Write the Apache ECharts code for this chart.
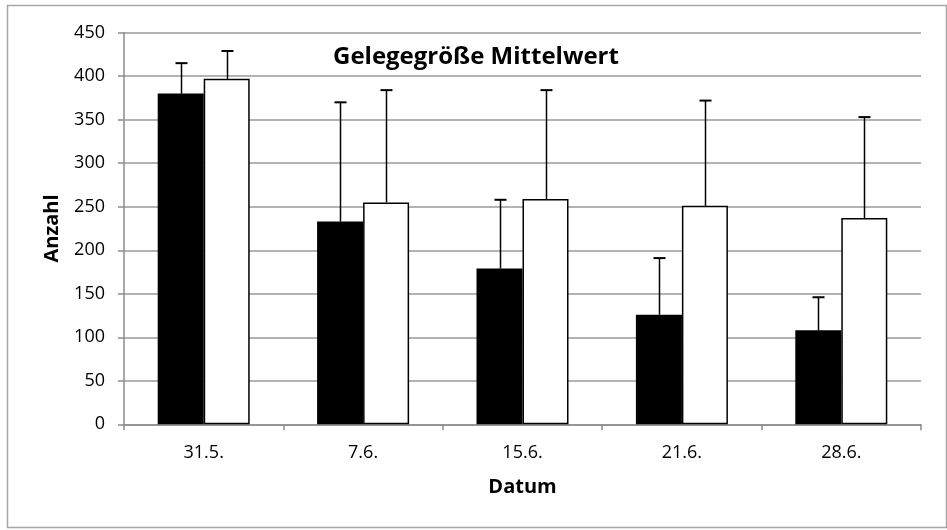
<!DOCTYPE html>
<html><head><meta charset="utf-8">
<script src="https://cdn.jsdelivr.net/npm/echarts@6/dist/echarts.min.js"></script>
<style>html,body{margin:0;padding:0;background:#fff}#c{width:947px;height:530px}</style>
</head><body><div id="c"></div>
<script>
const categories = ['31.5.', '7.6.', '15.6.', '21.6.', '28.6.'];
const seriesA = [380, 233, 179, 126, 108];
const seriesAErr = [35, 137, 79, 65, 38];
const seriesB = [397, 255, 259, 251, 237];
const seriesBErr = [32, 129, 125, 121, 116];
const yTicks = [0, 50, 100, 150, 200, 250, 300, 350, 400, 450];

const BAR_W = 46;
const chart = echarts.init(document.getElementById('c'), null, {renderer: 'canvas'});
const FONT = '"Open Sans"';

function errSeries(vals, errs, side) {
  return {
    type: 'custom',
    z: 5,
    data: vals.map((v, i) => [i, v, v + errs[i]]),
    renderItem: function (params, api) {
      const base = api.coord([api.value(0), api.value(1)]);
      const top = api.coord([api.value(0), api.value(2)]);
      const x = Math.round(base[0] + side * BAR_W / 2) + 0.5;
      const cap = 6;
      return {
        type: 'group',
        children: [
          {type: 'line', shape: {x1: x, y1: base[1], x2: x, y2: top[1]}, style: {stroke: '#000', lineWidth: 1.5}},
          {type: 'line', shape: {x1: x - cap, y1: top[1], x2: x + cap, y2: top[1]}, style: {stroke: '#000', lineWidth: 2}}
        ]
      };
    }
  };
}

chart.setOption({
  animation: false,
  backgroundColor: '#fff',
  grid: {left: 124, right: 26, top: 32.7, bottom: 105.7},
  graphic: [
    {type: 'rect', shape: {x: 7.5, y: 5.5, width: 939, height: 522}, style: {fill: 'none', stroke: '#a6a6a6', lineWidth: 1.5}, silent: true},
    {type: 'text', x: 333, y: 57, style: {text: 'Gelegegröße Mittelwert', font: 'bold 24px ' + FONT, fill: '#000', verticalAlign: 'middle'}, z: 10}
  ],
  xAxis: {
    type: 'category',
    data: categories,
    name: 'Datum',
    nameLocation: 'middle',
    nameGap: 53,
    nameTextStyle: {fontFamily: FONT, fontWeight: 'bold', fontSize: 20, color: '#000'},
    axisLine: {lineStyle: {color: '#8c8c8c', width: 1.5}},
    axisTick: {show: true, length: 6, lineStyle: {color: '#8c8c8c', width: 1.5}},
    axisLabel: {fontFamily: FONT, fontSize: 18, color: '#000', margin: 20}
  },
  yAxis: {
    type: 'value',
    min: 0, max: 450, interval: 50,
    name: 'Anzahl',
    nameLocation: 'middle',
    nameGap: 62,
    nameTextStyle: {fontFamily: FONT, fontWeight: 'bold', fontSize: 20, color: '#000'},
    axisLine: {show: true, lineStyle: {color: '#8c8c8c', width: 1.5}},
    axisTick: {show: true, length: 6, lineStyle: {color: '#8c8c8c', width: 1.5}},
    axisLabel: {fontFamily: FONT, fontSize: 18, color: '#000', margin: 19,
      formatter: v => yTicks.includes(v) ? String(v) : ''},
    splitLine: {lineStyle: {color: '#9a9a9a', width: 1.5}}
  },
  series: [
    {type: 'bar', data: seriesA, barWidth: BAR_W, barGap: '0%',
      itemStyle: {color: '#000', borderColor: '#000', borderWidth: 1.5}},
    {type: 'bar', data: seriesB, barWidth: BAR_W, barGap: '0%',
      itemStyle: {color: '#fff', borderColor: '#000', borderWidth: 1.5}},
    errSeries(seriesA, seriesAErr, -1),
    errSeries(seriesB, seriesBErr, 1)
  ]
});
</script></body></html>
